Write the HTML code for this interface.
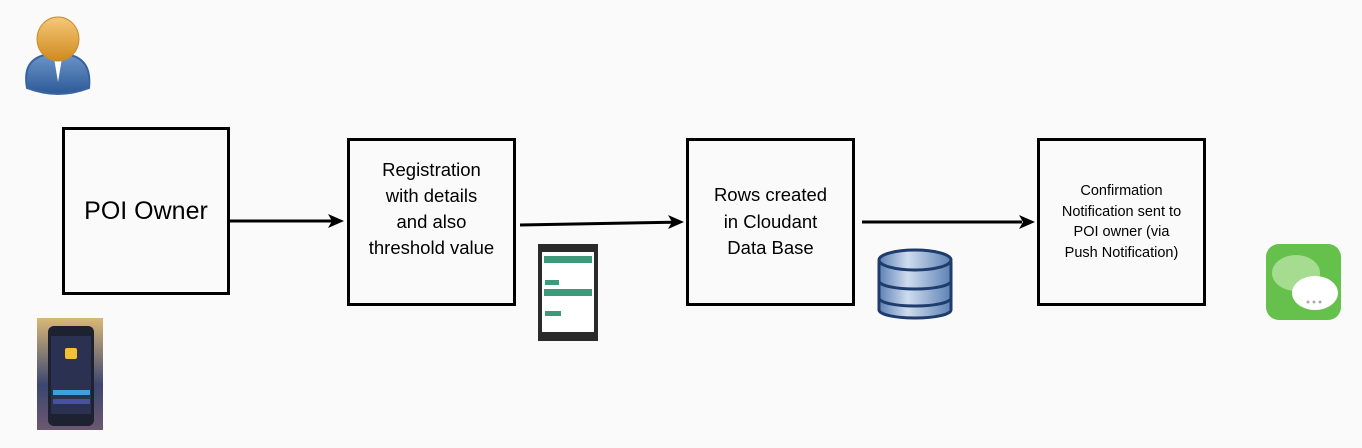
<!DOCTYPE html>
<html><head><meta charset="utf-8"><style>
body{margin:0;width:1362px;height:448px;background:#fafafa;position:relative;overflow:hidden;font-family:"Liberation Sans",sans-serif;color:#000}
.box{position:absolute;border:3px solid #000;box-sizing:border-box;display:flex;align-items:center;justify-content:center;text-align:center;background:transparent}
</style></head><body>
<div class="box" style="left:62px;top:127px;width:168px;height:168px;font-size:25px;padding-top:0px">POI Owner</div>
<div class="box" style="left:347px;top:138px;width:169px;height:168px;font-size:18.5px;line-height:26px;padding-bottom:26px">Registration<br>with details<br>and also<br>threshold value</div>
<div class="box" style="left:686px;top:138px;width:169px;height:168px;font-size:18.5px;line-height:26.5px;padding-bottom:0px">Rows created<br>in Cloudant<br>Data Base</div>
<div class="box" style="left:1037px;top:138px;width:169px;height:168px;font-size:14.5px;line-height:20.5px;padding-bottom:0px">Confirmation<br>Notification sent to<br>POI owner (via<br>Push Notification)</div>
<svg width="1362" height="448" style="position:absolute;left:0;top:0">
<defs>
<linearGradient id="h" x1="0" y1="0" x2="0" y2="1"><stop offset="0" stop-color="#f5c878"/><stop offset="1" stop-color="#d08a1e"/></linearGradient>
<linearGradient id="b" x1="0" y1="0" x2="0" y2="1"><stop offset="0" stop-color="#6a94c8"/><stop offset="1" stop-color="#2c5a98"/></linearGradient>
<linearGradient id="d" x1="0" y1="0" x2="1" y2="0"><stop offset="0" stop-color="#5d82b4"/><stop offset=".4" stop-color="#cfdcef"/><stop offset="1" stop-color="#5d82b4"/></linearGradient>
<linearGradient id="s" x1="0" y1="0" x2="0" y2="1"><stop offset="0" stop-color="#d9b878"/><stop offset=".6" stop-color="#3b4670"/><stop offset="1" stop-color="#6c5870"/></linearGradient>
</defs>
<g stroke="#000" stroke-width="3" fill="none">
<line x1="230" y1="221" x2="332" y2="221"/>
<line x1="520" y1="225" x2="672" y2="222.2"/>
<line x1="862" y1="222" x2="1022" y2="222"/>
</g>
<g fill="#000">
<path d="M344,221 L328,214 L332,221 L328,228z"/>
<path d="M684,222 L668,215 L672,222 L668,229z"/>
<path d="M1035,222 L1019,215 L1023,222 L1019,229z"/>
</g>
<!-- person -->
<path d="M27,88 Q22,60 45,55 L70,55 Q92,60 89,88 Q58,100 27,88z" fill="url(#b)" stroke="#3a64a0" stroke-width="2"/>
<path d="M54,58 L58,82 L62,58z" fill="#fff"/>
<ellipse cx="58" cy="39" rx="21" ry="22" fill="url(#h)" stroke="#c98a2a"/>
<!-- phone 1 -->
<rect x="37" y="318" width="66" height="112" fill="url(#s)"/>
<rect x="48" y="326" width="46" height="100" rx="6" fill="#1e2230"/>
<rect x="51" y="336" width="40" height="78" fill="#2b3150"/>
<rect x="65" y="348" width="12" height="11" rx="2" fill="#f2c230"/>
<rect x="53" y="390" width="37" height="5" fill="#3ea0e0"/>
<rect x="53" y="399" width="37" height="5" fill="#4850a0"/>
<!-- phone 2 -->
<rect x="538" y="244" width="60" height="97" fill="#2a2a2a"/>
<rect x="542" y="252" width="52" height="80" fill="#fff"/>
<rect x="544" y="256" width="48" height="7" fill="#3d9a7a"/>
<rect x="545" y="280" width="14" height="5" fill="#3d9a7a"/>
<rect x="544" y="289" width="48" height="7" fill="#3d9a7a"/>
<rect x="545" y="311" width="16" height="5" fill="#3d9a7a"/>
<!-- db -->
<g stroke="#1e3c6c" stroke-width="3" fill="url(#d)">
<path d="M879,300 v10 a36,8 0 0 0 72,0 v-10z"/>
<path d="M879,283 v15 a36,8 0 0 0 72,0 v-15z"/>
<path d="M879,263 v18 a36,8 0 0 0 72,0 v-18z"/>
<ellipse cx="915" cy="260" rx="36" ry="10"/>
</g>
<!-- message -->
<rect x="1266" y="244" width="75" height="76" rx="13" fill="#65c04c"/>
<ellipse cx="1296" cy="273" rx="24" ry="18" fill="#a5dc90"/>
<ellipse cx="1315" cy="293" rx="23" ry="17" fill="#fff"/>
<circle cx="1308" cy="302" r="1.5" fill="#aaa"/><circle cx="1314" cy="302" r="1.5" fill="#aaa"/><circle cx="1320" cy="302" r="1.5" fill="#aaa"/>
</svg>
</body></html>
